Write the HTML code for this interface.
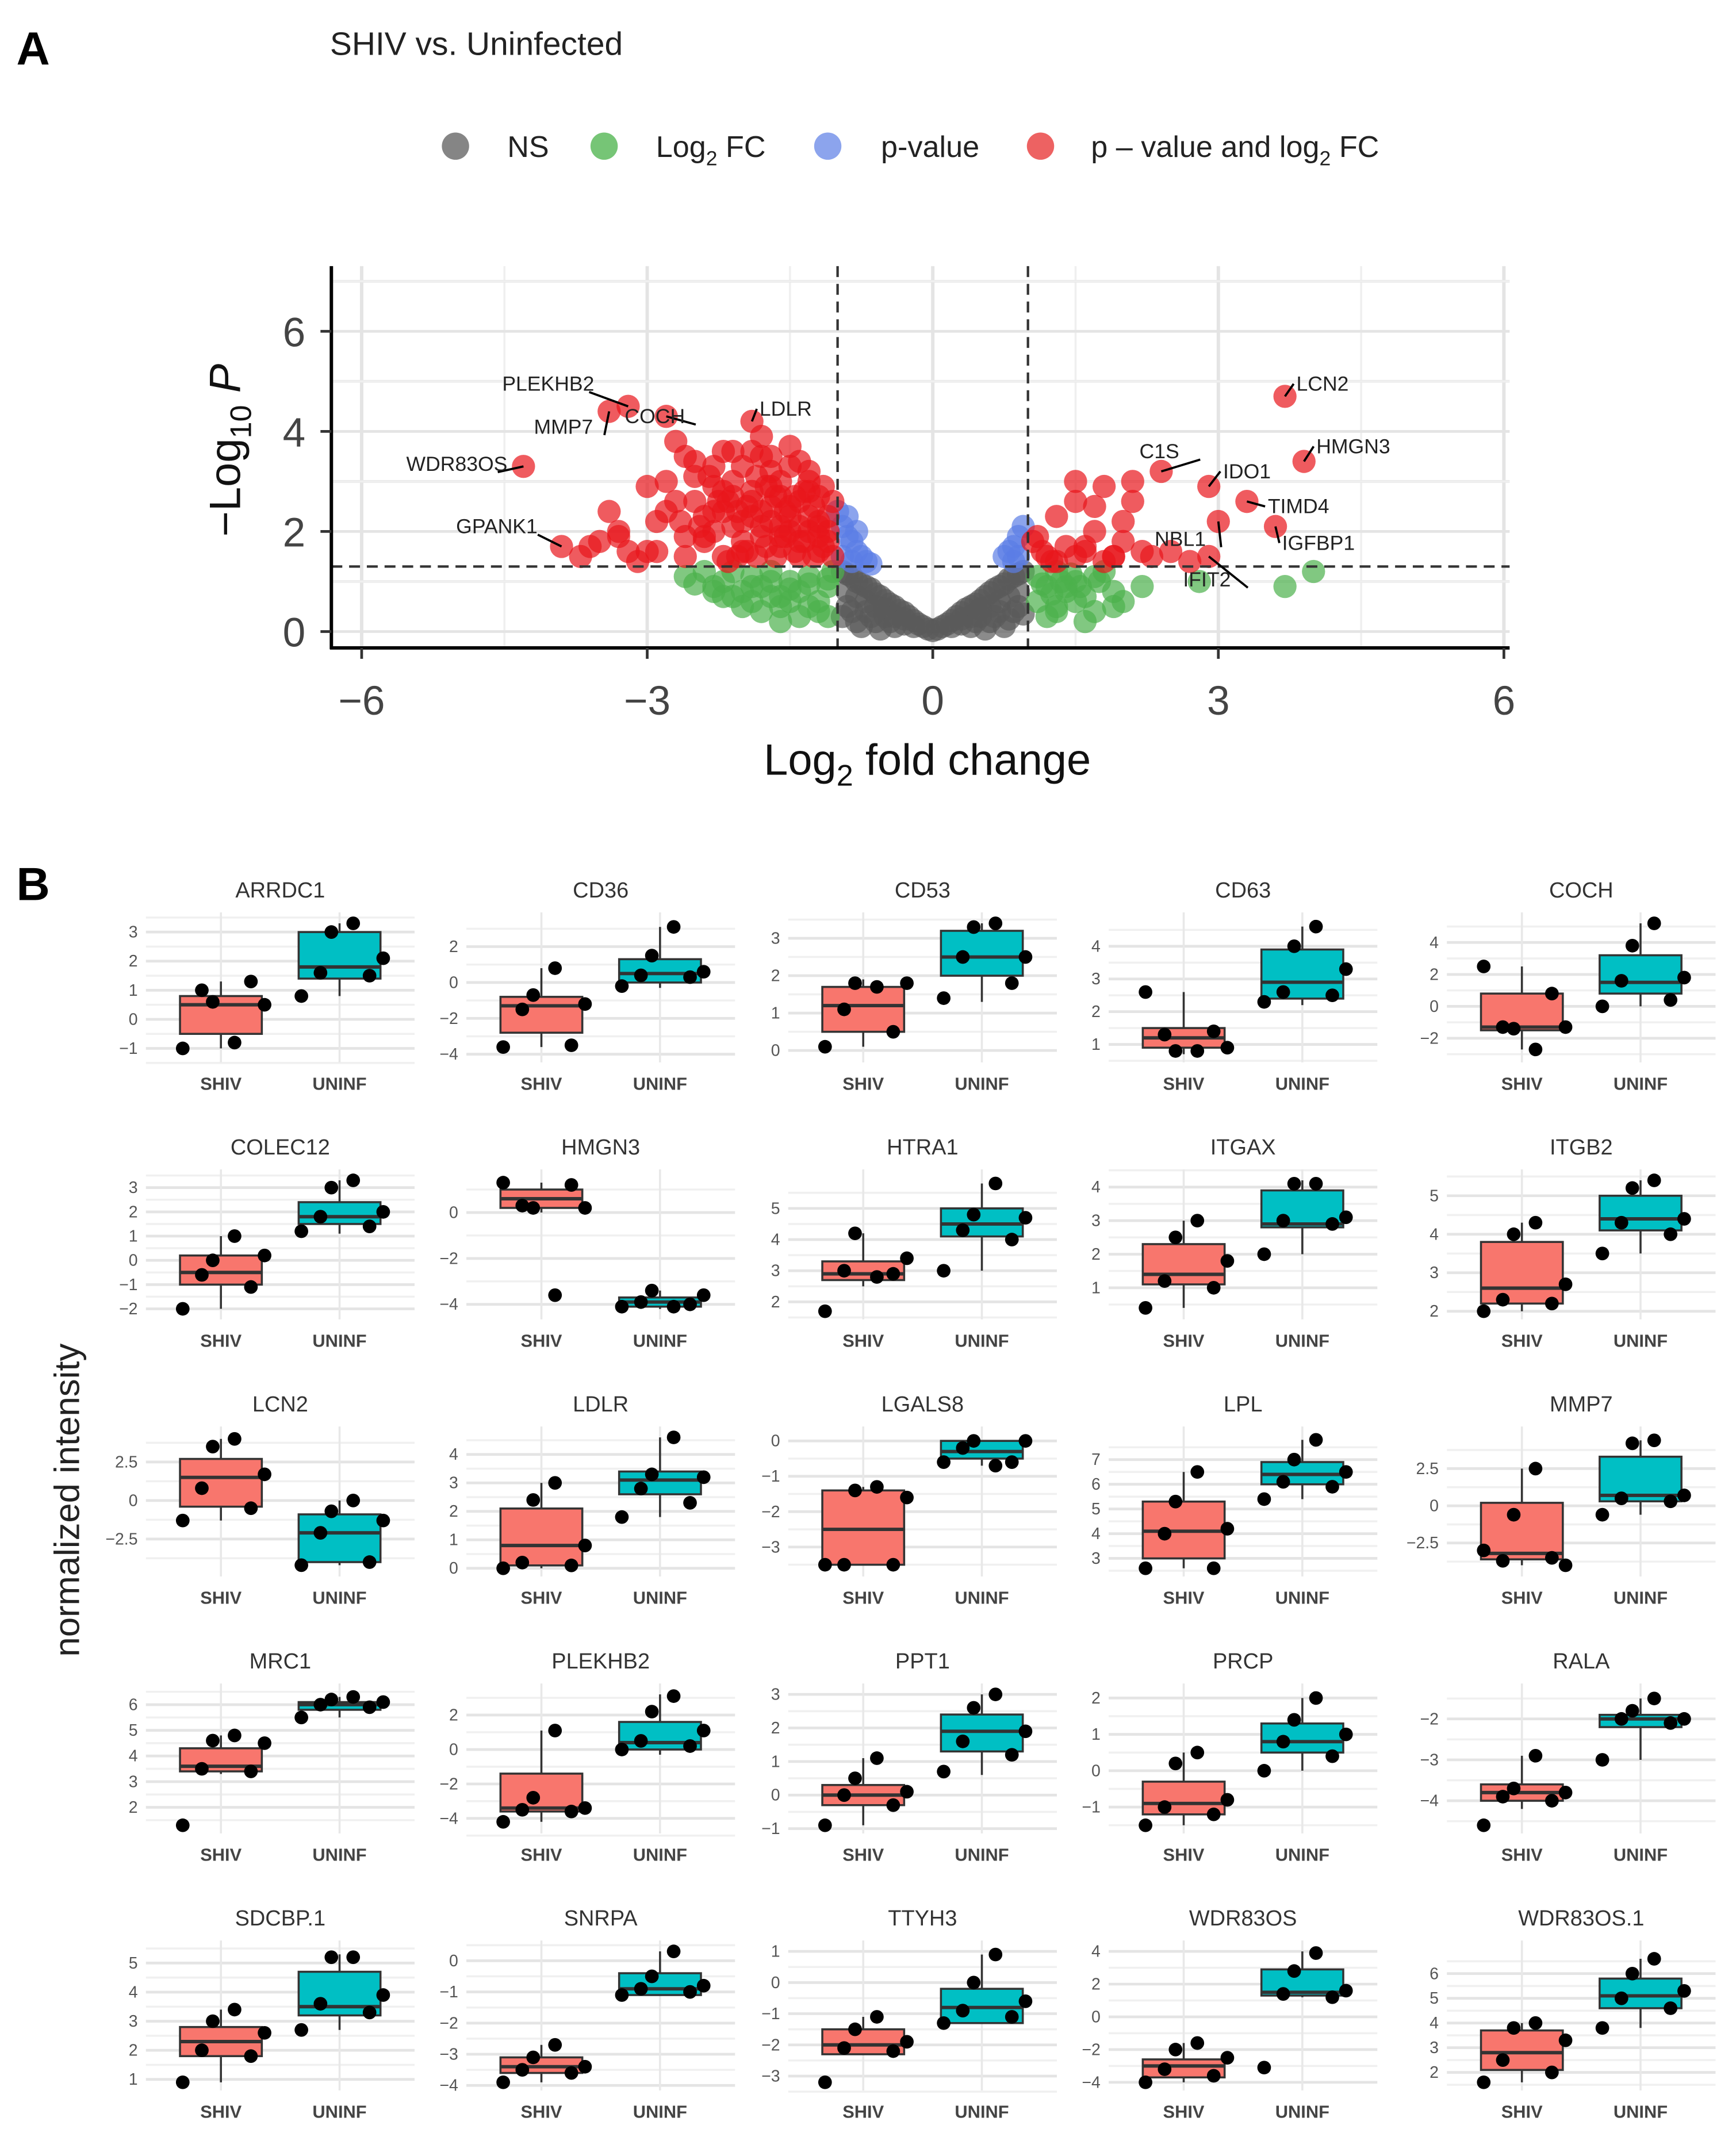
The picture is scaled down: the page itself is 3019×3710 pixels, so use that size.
<!DOCTYPE html>
<html><head><meta charset="utf-8"><style>
html,body{margin:0;padding:0;background:#fff;}
svg{display:block;}
text{font-family:"Liberation Sans",sans-serif;}
</style></head><body>
<svg id="fig" xmlns="http://www.w3.org/2000/svg" width="3019" height="3710" viewBox="0 0 1273 1564">
<rect width="1273" height="1564" fill="#fff"/>
<text x="12" y="47" font-size="34" font-weight="bold">A</text>
<text x="242" y="40" font-size="24" fill="#222">SHIV vs. Uninfected</text>
<g font-size="22" fill="#222">
<g><circle cx="334" cy="107" r="10" fill="#666" opacity="0.8"/><text x="372" y="115">NS</text></g>
<g><circle cx="443" cy="107" r="10" fill="#3cad3c" opacity="0.7"/><text x="481" y="115">Log<tspan font-size="15" dy="6">2</tspan><tspan dy="-6"> FC</tspan></text></g>
<g><circle cx="607" cy="107" r="10" fill="#5b7ee6" opacity="0.7"/><text x="646" y="115">p-value</text></g>
<g><circle cx="763" cy="107" r="10" fill="#e62020" opacity="0.7"/><text x="800" y="115">p – value and log<tspan font-size="15" dy="6">2</tspan><tspan dy="-6"> FC</tspan></text></g>
</g>
<g id="volcano"></g>
<text x="12" y="660" font-size="34" font-weight="bold">B</text>
<text transform="translate(58,1100) rotate(-90)" text-anchor="middle" font-size="26" fill="#222">normalized intensity</text>
<g id="boxes"></g>
</svg>
<script>
// ---------- Volcano data ----------
const nsX = [-0.95,-0.9,-0.85,-0.8,-0.75,-0.7,-0.65,-0.6,-0.55,-0.5,-0.45,-0.4,-0.35,-0.3,-0.25,-0.2,-0.15,-0.1,-0.05,0,0.05,0.1,0.15,0.2,0.25,0.3,0.35,0.4,0.45,0.5,0.55,0.6,0.65,0.7,0.75,0.8,0.85,0.9,0.95,-0.9,-0.7,-0.5,-0.3,0.3,0.5,0.7,0.9,-0.8,-0.6,0.6,0.8,-0.95,0.95,-0.4,0.4,
 -0.9,-0.8,-0.7,-0.6,-0.5,-0.4,-0.3,-0.2,0.2,0.3,0.4,0.5,0.6,0.7,0.8,0.9,-0.85,-0.65,-0.45,0.45,0.65,0.85,-0.75,0.75,-0.55,0.55];
const nsY = [1.2,1.15,1.1,1.0,0.95,0.9,0.85,0.75,0.7,0.62,0.55,0.5,0.42,0.38,0.3,0.22,0.15,0.1,0.05,0.02,0.05,0.1,0.15,0.22,0.3,0.38,0.45,0.5,0.55,0.62,0.7,0.78,0.85,0.9,0.95,1.05,1.1,1.15,1.2,0.5,0.4,0.3,0.15,0.15,0.3,0.4,0.5,0.2,0.2,0.2,0.25,0.3,0.35,0.1,0.1,
 0.8,0.7,0.6,0.5,0.45,0.3,0.25,0.1,0.1,0.25,0.3,0.45,0.5,0.6,0.7,0.8,0.4,0.3,0.2,0.2,0.3,0.4,0.1,0.1,0.05,0.05];
const fcX = [-2.6,-2.4,-2.3,-2.2,-2.1,-2.0,-1.9,-1.8,-1.7,-1.6,-1.5,-1.4,-1.3,-1.2,-1.1,-1.05,-2.0,-1.8,-1.6,-1.4,-1.2,-1.7,-1.5,-1.3,-1.1,-1.9,-2.2,-1.6,1.1,1.2,1.3,1.4,1.5,1.6,1.7,1.8,1.9,2.0,1.3,1.5,1.7,1.2,1.4,2.8,3.7,4.0,2.2,1.9,1.6,1.1,1.3,
 -2.5,-2.3,-2.1,-1.9,-1.7,-1.5,-1.3,-1.1,1.15,1.35,1.55,1.75,1.25,1.45];
const fcY = [1.1,1.2,0.9,1.0,1.2,0.8,1.1,0.9,1.2,0.7,1.0,0.8,1.1,0.6,0.9,1.2,0.5,0.4,0.5,0.3,0.4,0.7,0.6,0.5,0.3,0.9,0.7,0.2,1.1,0.9,1.2,0.8,1.0,0.7,1.1,1.2,0.8,0.6,0.5,0.6,0.4,0.3,0.9,1.0,0.9,1.2,0.9,0.5,0.2,0.6,0.4,
 0.95,0.8,0.7,0.6,1.0,0.85,0.95,1.05,0.95,1.0,0.9,1.0,0.75,1.15];
const pvX = [-1.0,-0.95,-0.9,-0.85,-0.8,-0.75,-0.7,-0.65,-0.9,-0.8,-0.95,-0.85,0.75,0.8,0.85,0.9,0.95,0.85,0.9];
const pvY = [2.4,2.1,1.9,1.8,1.6,1.5,1.4,1.35,2.3,2.0,1.5,1.4,1.5,1.6,1.7,1.9,2.1,1.4,1.5];
const redX = [-3.7,-3.5,-3.4,-3.3,-3.2,-3.0,-2.9,-2.8,-2.7,-2.6,-2.5,-2.4,-2.3,-2.2,-2.1,-2.0,-1.9,-1.8,-1.7,-1.6,-1.5,-1.4,-1.3,-1.2,-1.1,-3.1,-2.9,-2.6,-2.4,-2.2,-2.0,-1.8,-1.6,-1.4,-1.2,-2.7,-2.5,-2.3,-2.1,-1.9,-1.7,-1.5,-1.3,-1.1,-2.5,-2.3,-2.1,-1.9,-1.7,-1.5,-1.3,-2.2,-2.0,-1.8,-1.6,-1.4,-1.2,-2.8,-2.4,-2.0,-1.6,-1.2,-2.6,-2.2,-1.8,-1.4,-3.6,-3.3,-3.0,
 -1.05,-1.15,-1.25,-1.35,-1.45,-1.55,-1.65,-1.75,-1.85,-1.95,-2.05,-2.15,-1.1,-1.2,-1.3,-1.4,-1.5,-1.6,-1.7,-1.8,-1.05,-1.15,-1.25,-1.35,-1.45,-1.55,-1.65,-1.75,-1.85,-1.95,-2.05,-2.15,-2.25,-2.35,-1.3,-1.5,-1.7,-1.9,-2.1,-2.3,-2.45,-2.65,
 -4.3,-3.9,-3.4,-3.2,-2.8,-1.9,
 1.1,1.2,1.3,1.4,1.5,1.6,1.7,1.8,1.9,2.0,2.1,2.2,1.3,1.5,1.7,1.9,2.1,2.3,2.5,2.7,1.6,1.8,2.0,1.15,1.25,1.05,
 3.7,3.9,2.4,2.9,3.3,3.0,3.6,2.9,1.5];
const redY = [1.5,1.8,2.4,2.0,1.6,2.9,2.2,3.0,2.6,1.9,3.4,2.3,2.9,3.6,2.1,3.3,2.6,3.9,2.2,3.0,2.5,3.4,2.0,2.7,1.8,1.4,1.6,1.5,1.8,1.5,1.6,1.9,1.7,1.5,2.2,3.8,3.1,2.0,2.7,2.3,2.9,3.7,2.8,2.3,2.6,3.3,3.0,2.8,3.2,2.0,3.0,2.4,1.8,2.4,1.9,2.6,1.6,2.4,1.9,2.2,2.7,1.9,3.5,2.8,3.5,1.8,1.7,1.9,1.6,
 1.5,1.7,1.5,1.8,1.6,1.9,1.5,1.7,1.5,1.6,1.5,1.4,2.0,2.1,2.3,2.1,2.3,2.1,2.5,2.1,2.6,2.9,2.5,2.8,2.7,2.4,2.7,2.9,3.1,2.5,2.4,2.6,2.6,3.1,3.2,3.3,3.5,3.6,3.6,2.4,2.1,2.2,
 3.3,1.7,4.4,4.5,4.3,4.2,
 1.9,1.5,2.3,1.7,2.6,1.6,2.0,2.9,1.5,1.8,3.0,1.6,1.4,1.5,2.5,1.5,2.6,1.5,1.6,1.4,1.7,1.4,2.2,1.6,1.4,1.8,
 4.7,3.4,3.2,2.9,2.6,2.2,2.1,1.5,3.0];
const volLabels = ["LCN2","HMGN3","C1S","IDO1","TIMD4","NBL1","IGFBP1","IFIT2","PLEKHB2","MMP7","COCH","WDR83OS","GPANK1","LDLR"];
const labPX = [3.7,3.9,2.4,2.9,3.3,3.0,3.6,2.9,-3.2,-3.4,-2.8,-4.3,-3.9,-1.9];
const labPY = [4.7,3.4,3.2,2.9,2.6,2.2,2.1,1.5,4.5,4.4,4.3,3.3,1.7,4.2];
const labTX = [3.82,4.03,2.38,3.05,3.52,2.6,3.67,2.88,-4.04,-3.88,-2.92,-5.0,-4.58,-1.82];
const labTY = [4.95,3.7,3.6,3.2,2.5,1.85,1.77,1.04,4.95,4.09,4.3,3.35,2.1,4.45];
const xTicks = [-6,-3,0,3,6];
const yTicks = [0,2,4,6];

const NS="http://www.w3.org/2000/svg";
function mk(tag, attrs, parent){const e=document.createElementNS(NS,tag);for(const k in attrs)e.setAttribute(k,attrs[k]);parent.appendChild(e);return e;}
const vx = v => 684 + v*69.8;
const vy = v => 463 - v*36.7;
const vol = document.getElementById('volcano');
for (let v=-6; v<=6; v+=1.5){const l=mk('line',{x1:vx(v),x2:vx(v),y1:195,y2:475,stroke:(v%3===0)?'#e4e4e4':'#efefef','stroke-width':(v%3===0)?2.5:1.5},vol);

}
for (let v=-0.3; v<=7.2; v+=1){const l=mk('line',{x1:243,x2:1107,y1:vy(v+0.3),y2:vy(v+0.3),stroke:'#e4e4e4','stroke-width':2},vol);

}
for (let v=1; v<=7; v+=2){const l=mk('line',{x1:243,x2:1107,y1:vy(v),y2:vy(v),stroke:'#efefef','stroke-width':1.5},vol);

}
function pts(xs, ys, color, name){
 for(let i=0;i<xs.length;i++){const c=mk('circle',{cx:vx(xs[i]),cy:vy(ys[i]),r:8.5,fill:color,'fill-opacity':0.7},vol);
 
 }
}
pts(nsX,nsY,'#5a5a5a','ns-point');
pts(fcX,fcY,'#4cb04c','log2fc-point');
pts(pvX,pvY,'#5b7ee6','pvalue-point');
pts(redX,redY,'#e8161b','significant-point');
[-1,1].forEach(v=>{const l=mk('line',{x1:vx(v),x2:vx(v),y1:195,y2:475,stroke:'#333','stroke-width':1.8,'stroke-dasharray':'8,5'},vol);

});
{const l=mk('line',{x1:243,x2:1107,y1:vy(1.3),y2:vy(1.3),stroke:'#333','stroke-width':1.8,'stroke-dasharray':'8,5'},vol);

}
for(let i=0;i<volLabels.length;i++){
 const start = labTX[i] > labPX[i];
 const l=mk('line',{x1:vx(labPX[i]),y1:vy(labPY[i]),x2:start?vx(labTX[i])-2:vx(labTX[i])+(labPX[i]>labTX[i]?30:0),y2:vy(labTY[i])+(start?0:6),stroke:'#000','stroke-width':1.6},vol);
 
 
 const t=mk('text',{x:vx(labTX[i]),y:vy(labTY[i])+5,'font-size':15,fill:'#222','text-anchor':start?'start':'middle'},vol);
 t.textContent=volLabels[i];
 
 
}
{const a=mk('line',{x1:243,x2:243,y1:195,y2:476,stroke:'#000','stroke-width':2.5},vol);


const b=mk('line',{x1:242,x2:1107,y1:475,y2:475,stroke:'#000','stroke-width':2.5},vol);

}
xTicks.forEach(v=>{mk('line',{x1:vx(v),x2:vx(v),y1:475,y2:483,stroke:'#333','stroke-width':2},vol);
 const t=mk('text',{x:vx(v),y:524,'font-size':30,fill:'#444','text-anchor':'middle'},vol);
 t.textContent=(v<0?'−':'')+Math.abs(v);
 
 });
yTicks.forEach(v=>{mk('line',{x1:235,x2:243,y1:vy(v),y2:vy(v),stroke:'#333','stroke-width':2},vol);
 const t=mk('text',{x:224,y:vy(v)+11,'font-size':30,fill:'#444','text-anchor':'end'},vol);
 t.textContent=v;
 
 });
{const t=mk('text',{x:680,y:568,'font-size':32,fill:'#111','text-anchor':'middle'},vol);
t.innerHTML='Log<tspan font-size="22" dy="8">2</tspan><tspan dy="-8"> fold change</tspan>';


const y=mk('text',{transform:'translate(176,330) rotate(-90)','font-size':32,fill:'#111','text-anchor':'middle'},vol);
y.innerHTML='−Log<tspan font-size="22" dy="8">10</tspan><tspan dy="-8"> </tspan><tspan font-style="italic">P</tspan>';

}

// ---------- Boxplot data ----------
const genes = ["ARRDC1","CD36","CD53","CD63","COCH","COLEC12","HMGN3","HTRA1","ITGAX","ITGB2","LCN2","LDLR","LGALS8","LPL","MMP7","MRC1","PLEKHB2","PPT1","PRCP","RALA","SDCBP.1","SNRPA","TTYH3","WDR83OS","WDR83OS.1"];
const yLims = [[-1.2,3.3],[-4,3.3],[-0.1,3.4],[0.7,4.7],[-3,5.2],[-2.1,3.3],[-4.3,1.4],[1.7,5.9],[0.3,4.2],[2,5.4],[-4.4,4.1],[0,4.6],[-3.6,0.1],[2.6,7.9],[-4.2,4.6],[1.3,6.4],[-4.4,3.2],[-0.9,3.0],[-1.5,2.1],[-4.6,-1.4],[0.9,5.4],[-3.9,0.3],[-3.2,1.0],[-4,4],[1.6,6.9]];
const tickVals = [[-1,0,1,2,3],[-4,-2,0,2],[0,1,2,3],[1,2,3,4],[-2,0,2,4],[-2,-1,0,1,2,3],[-4,-2,0],[2,3,4,5],[1,2,3,4],[2,3,4,5],[-2.5,0,2.5],[0,1,2,3,4],[-3,-2,-1,0],[3,4,5,6,7],[-2.5,0,2.5],[2,3,4,5,6],[-4,-2,0,2],[-1,0,1,2,3],[-1,0,1,2],[-4,-3,-2],[1,2,3,4,5],[-4,-3,-2,-1,0],[-3,-2,-1,0,1],[-4,-2,0,2,4],[2,3,4,5,6]];
const shivStats = [[-1,-0.5,0.5,0.8,1.3],[-3.6,-2.8,-1.3,-0.8,0.8],[0.1,0.5,1.2,1.7,1.9],[0.7,0.9,1.2,1.5,2.6],[-2.7,-1.5,-1.3,0.8,2.5],[-2,-1,-0.5,0.2,1],[0,0.2,0.6,1.0,1.3],[2.5,2.7,2.9,3.3,4.2],[0.4,1.1,1.4,2.3,3.0],[2,2.2,2.6,3.8,4.3],[-1.3,-0.4,1.5,2.7,4.0],[0,0.1,0.8,2.1,3.0],[-3.5,-3.5,-2.5,-1.4,-1.3],[2.6,3.0,4.1,5.3,6.5],[-4,-3.6,-3.2,0.2,2.5],[3.3,3.4,3.6,4.3,4.8],[-4.2,-3.6,-3.4,-1.4,1.1],[-0.9,-0.3,0,0.3,1.1],[-1.5,-1.2,-0.9,-0.3,0.5],[-4.2,-4.0,-3.8,-3.6,-2.9],[0.9,1.8,2.3,2.8,3.4],[-3.9,-3.6,-3.4,-3.1,-2.7],[-2.3,-2.3,-2.0,-1.5,-1.1],[-4,-3.7,-3.0,-2.6,-1.6],[1.6,2.1,2.8,3.7,4.0]];
const uninfStats = [[0.8,1.4,1.8,3.0,3.3],[-0.3,0,0.5,1.3,3.1],[1.3,2.0,2.5,3.2,3.4],[2.2,2.4,2.9,3.9,4.6],[0,0.8,1.5,3.2,5.2],[1.1,1.5,1.8,2.4,3.3],[-4.2,-4.1,-3.9,-3.7,-3.4],[3.0,4.1,4.5,5.0,5.8],[2.0,2.8,2.9,3.9,4.2],[3.5,4.1,4.4,5.0,5.4],[-4.2,-4.0,-2.1,-0.9,0],[1.8,2.6,3.1,3.4,4.6],[-0.7,-0.5,-0.3,0,0],[5.4,6.0,6.4,6.9,7.8],[-0.6,0.3,0.7,3.3,4.4],[5.5,5.8,6.0,6.1,6.3],[-0.3,0,0.4,1.6,3.2],[0.6,1.3,1.9,2.4,3.0],[0,0.5,0.8,1.3,2.0],[-3,-2.2,-2.0,-1.9,-1.5],[2.7,3.2,3.5,4.7,5.3],[-1.1,-1.1,-0.9,-0.4,0.3],[-1.3,-1.3,-0.8,-0.2,0.9],[1.2,1.3,1.5,2.9,4.0],[3.8,4.6,5.1,5.8,6.6]];
const shivPts = [[-1,1.3,1.0,0.5,0.6,-0.8],[-3.6,-3.5,-1.5,-1.2,-0.7,0.8],[0.1,0.5,1.1,1.8,1.8,1.7],[2.6,1.4,1.3,0.9,0.8,0.8],[2.5,0.8,-1.3,-1.3,-1.4,-2.7],[-2,-1.1,-0.6,0.2,0,1],[1.3,1.2,0.3,0.2,0.2,-3.6],[1.7,2.9,3.0,3.4,4.2,2.8],[0.4,1.0,1.2,1.8,2.5,3.0],[2.0,2.2,2.3,2.7,4.0,4.3],[-1.3,-0.5,0.8,1.7,3.5,4.0],[0,0.1,0.2,0.8,2.4,3.0],[-3.5,-3.5,-3.5,-1.6,-1.4,-1.3],[2.6,2.6,4.0,4.2,5.3,6.5],[-3,-3.5,-3.7,-4,-0.6,2.5],[1.3,3.4,3.5,4.5,4.6,4.8],[-4.2,-3.6,-3.5,-3.4,-2.8,1.1],[-0.9,-0.3,0,0.1,0.5,1.1],[-1.5,-1.2,-1.0,-0.8,0.2,0.5],[-4.6,-4.0,-3.9,-3.8,-3.7,-2.9],[0.9,1.8,2.0,2.6,3.0,3.4],[-3.9,-3.6,-3.5,-3.4,-3.1,-2.7],[-3.2,-2.2,-2.1,-1.9,-1.5,-1.1],[-4,-3.6,-3.2,-2.5,-2.0,-1.6],[1.6,2.0,2.5,3.3,3.8,4.0]];
const uninfPts = [[0.8,1.5,1.6,2.1,3.0,3.3],[-0.2,0.3,0.4,0.6,1.5,3.1],[1.4,1.8,2.5,2.5,3.3,3.4],[2.3,2.5,2.6,3.3,4.0,4.6],[0,0.4,1.6,1.8,3.8,5.2],[1.2,1.4,1.8,2.0,3.0,3.3],[-4.1,-4.0,-3.9,-3.6,-3.4,-4.1],[3.0,4.0,4.3,4.7,4.8,5.8],[2.0,2.9,3.0,3.1,4.1,4.1],[3.5,4.0,4.3,4.4,5.2,5.4],[-4.2,-4.0,-2.1,-1.3,-0.7,0],[1.8,2.3,2.8,3.2,3.3,4.6],[-0.6,-0.6,-0.2,0,0,-0.7],[5.4,5.9,6.1,6.5,7.0,7.8],[-0.6,0.3,0.5,0.7,4.2,4.4],[5.5,5.9,6.0,6.1,6.2,6.3],[0,0.2,0.5,1.1,2.2,3.1],[0.7,1.2,1.6,1.9,2.6,3.0],[0,0.4,0.8,1.0,1.4,2.0],[-3,-2.1,-2.0,-2.0,-1.8,-1.5],[2.7,3.3,3.6,3.9,5.2,5.2],[-1.1,-1.0,-0.9,-0.8,-0.5,0.3],[-1.3,-1.1,-0.9,-0.6,0,0.9],[-3.1,1.2,1.4,1.6,2.8,3.9],[3.8,4.6,5.0,5.3,6.0,6.6]];
const jitter = [-28,22,-14,32,-6,10];

const colShiv = [162,397,633,868,1116];
const box = document.getElementById('boxes');
function fmt(v){const s=(Math.abs(v)%1===0)?String(Math.abs(v)):Math.abs(v).toFixed(1);return (v<0?'−':'')+s;}
for(let g=0; g<genes.length; g++){
 const r=Math.floor(g/5), c=g%5;
 const top=652+r*188.5, sx=colShiv[c], ux=sx+87;
 const left=sx-55, right=ux+55, pTop=top+25, pBot=top+121;
 const [lo,hi]=yLims[g];
 const ys = v => pBot - (v-lo)/(hi-lo)*(pBot-pTop);
 const grp=mk('g',{},box);
 
 
 const tv=tickVals[g];
 const step=tv[1]-tv[0];
 for(let i=0;i<=tv.length;i++){const v=tv[0]-step/2+i*step; if(v<lo-step*0.3||v>hi+step*0.3) continue;
  const l=mk('line',{x1:left,x2:right,y1:ys(v),y2:ys(v),stroke:'#f0f0f0','stroke-width':1.5},grp);
  
  }
 tv.forEach(v=>{const l=mk('line',{x1:left,x2:right,y1:ys(v),y2:ys(v),stroke:'#e4e4e4','stroke-width':2},grp);
  
  
  const t=mk('text',{x:left-6,y:ys(v)+4,'font-size':12,fill:'#555','text-anchor':'end'},grp);
  t.textContent=fmt(v);
  
  });
 [sx,ux].forEach(x=>{const l=mk('line',{x1:x,x2:x,y1:pTop-8,y2:pBot+6,stroke:'#e8e8e8','stroke-width':1.5},grp);
  
  });
 const tt=mk('text',{x:(sx+ux)/2,y:top+6,'font-size':16,fill:'#333','text-anchor':'middle'},grp);
 tt.textContent=genes[g];
 
 
 [['SHIV',sx,shivStats[g],shivPts[g],'#f8766d'],['UNINF',ux,uninfStats[g],uninfPts[g],'#00bfc4']].forEach(([nm,x,st,pp,col])=>{
  const w=mk('line',{x1:x,x2:x,y1:ys(st[0]),y2:ys(st[4]),stroke:'#333','stroke-width':1.5},grp);
  
  
  const b=mk('rect',{x:x-30,y:ys(st[3]),width:60,height:Math.max(1,ys(st[1])-ys(st[3])),fill:col,stroke:'#333','stroke-width':1.5},grp);
  
  
  const m=mk('line',{x1:x-30,x2:x+30,y1:ys(st[2]),y2:ys(st[2]),stroke:'#333','stroke-width':2.5},grp);
  
  
  pp.forEach((v,i)=>{const p=mk('circle',{cx:x+jitter[i%jitter.length],cy:ys(v),r:5,fill:'#000'},grp);
   
   });
  const lt=mk('text',{x:x,y:top+147,'font-size':13,fill:'#444','text-anchor':'middle','font-weight':'bold'},grp);
  lt.textContent=nm;
  
  
 });
}
</script>
</body></html>
